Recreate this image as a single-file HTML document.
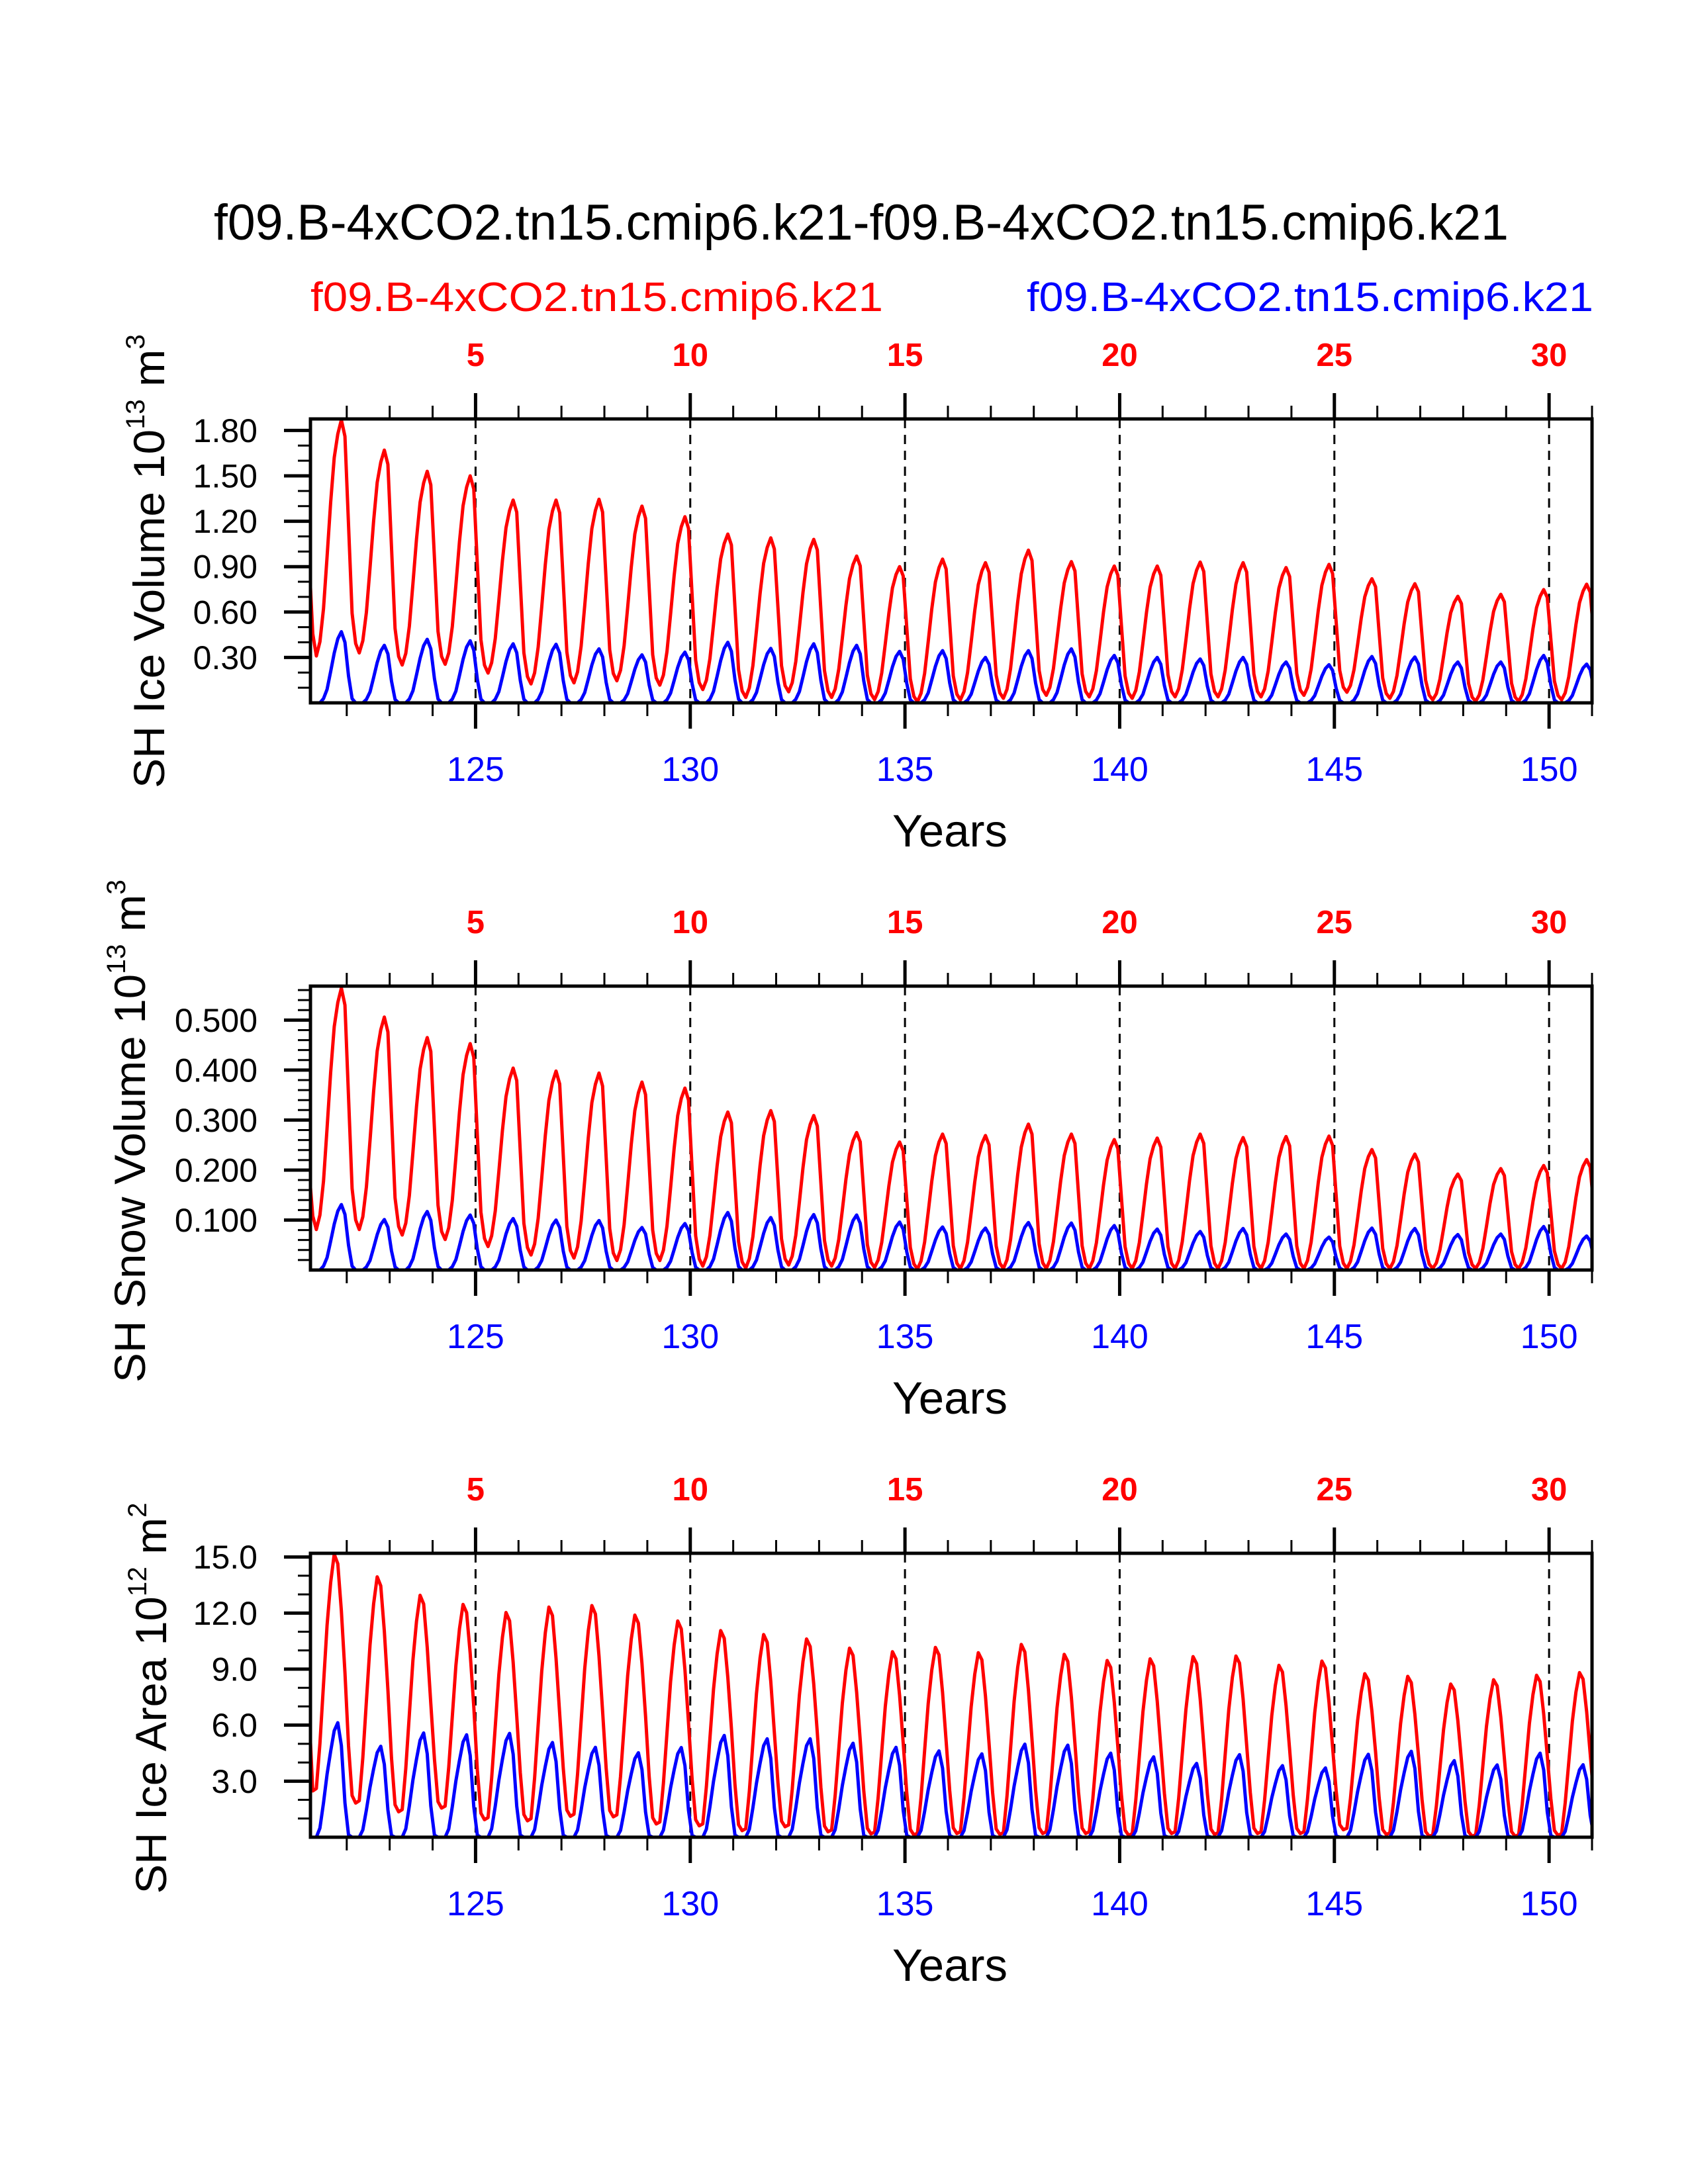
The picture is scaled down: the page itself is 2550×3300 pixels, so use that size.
<!DOCTYPE html>
<html><head><meta charset="utf-8"><style>
html,body{margin:0;padding:0;background:#fff;}
svg{display:block;}
text{font-family:"Liberation Sans",sans-serif;}
</style></head><body>
<svg id="chart" xmlns="http://www.w3.org/2000/svg" width="2550" height="3300" viewBox="0 0 2550 3300">
<rect width="2550" height="3300" fill="#fff"/>
<text x="1301" y="362" font-size="76" text-anchor="middle" textLength="1956" lengthAdjust="spacingAndGlyphs">f09.B-4xCO2.tn15.cmip6.k21-f09.B-4xCO2.tn15.cmip6.k21</text>
<text x="469" y="470" font-size="62" fill="#ff0000" textLength="865" lengthAdjust="spacingAndGlyphs">f09.B-4xCO2.tn15.cmip6.k21</text>
<text x="1551" y="470" font-size="62" fill="#0000ff" textLength="856" lengthAdjust="spacingAndGlyphs">f09.B-4xCO2.tn15.cmip6.k21</text>
<g id="panels"></g>
</svg>
<script>
// ---- data ----
const years = [121,122,123,124,125,126,127,128,129,130,131,132,133,134,135,136,137,138,139,140,141,142,143,144,145,146,147,148,149,150];
const volRedPeaks = [1.87,1.67,1.53,1.50,1.34,1.34,1.345,1.30,1.23,1.115,1.09,1.08,0.97,0.90,0.95,0.926,1.009,0.933,0.904,0.904,0.93,0.926,0.894,0.915,0.82,0.787,0.704,0.717,0.748,0.784];
const volRedTroughs = [0.31,0.33,0.25,0.255,0.197,0.125,0.132,0.146,0.117,0.088,0.036,0.073,0.036,0.022,0.007,0.02,0.03,0.05,0.04,0.03,0.04,0.04,0.04,0.05,0.07,0.03,0.02,0.01,0.01,0.02,0.02];
const volBluePeaks = [0.47,0.38,0.42,0.41,0.39,0.387,0.357,0.317,0.335,0.40,0.36,0.39,0.38,0.34,0.345,0.30,0.345,0.357,0.313,0.30,0.29,0.30,0.27,0.252,0.306,0.303,0.27,0.27,0.313,0.256];
const volBlueTroughs = [0,0,0,0,0,0,0,0,0,0,0,0,0,0,0,0,0,0,0,0,0,0,0,0,0,0,0,0,0,0,0];
const snowRedPeaks = [0.564,0.506,0.465,0.453,0.404,0.398,0.394,0.376,0.364,0.316,0.319,0.309,0.275,0.256,0.272,0.269,0.292,0.272,0.261,0.264,0.272,0.265,0.267,0.268,0.241,0.232,0.192,0.203,0.209,0.221];
const snowRedTroughs = [0.081,0.081,0.070,0.061,0.047,0.030,0.024,0.019,0.019,0.008,0.004,0.010,0.008,0.005,0.002,0.003,0.003,0.003,0.003,0.003,0.003,0.003,0.003,0.003,0.003,0.003,0.003,0.003,0.003,0.003,0.003];
const snowBluePeaks = [0.131,0.101,0.117,0.110,0.103,0.100,0.099,0.085,0.093,0.115,0.105,0.111,0.110,0.096,0.086,0.084,0.095,0.094,0.089,0.082,0.077,0.083,0.072,0.066,0.084,0.083,0.071,0.072,0.087,0.068];
const snowBlueTroughs = [0,0,0,0,0,0,0,0,0,0,0,0,0,0,0,0,0,0,0,0,0,0,0,0,0,0,0,0,0,0,0];
const areaRedPeaks = [15.15,13.94,12.95,12.46,12.03,12.32,12.40,11.89,11.58,11.06,10.85,10.61,10.12,9.93,10.16,9.88,10.32,9.79,9.46,9.55,9.67,9.70,9.20,9.43,8.75,8.61,8.20,8.43,8.67,8.81];
const areaRedTroughs = [2.48,1.83,1.36,1.56,0.94,0.88,1.12,1.09,0.71,0.61,0.35,0.56,0.29,0.18,0.12,0.2,0.15,0.2,0.2,0.1,0.2,0.15,0.2,0.2,0.4,0.15,0.05,0.05,0.05,0.1,0.1];
const areaBluePeaks = [6.13,4.87,5.58,5.48,5.56,5.07,4.81,4.52,4.80,5.45,5.27,5.27,5.03,4.81,4.62,4.46,4.98,4.93,4.50,4.30,3.95,4.42,3.83,3.71,4.44,4.60,4.10,3.87,4.50,3.88];
const areaBlueTroughs = [0,0,0,0,0,0,0,0,0,0,0,0,0,0,0,0,0,0,0,0,0,0,0,0,0,0,0,0,0,0,0];
const startValues = [0.93, 0, 0.196, 0, 6.5, 0];
const volTickLabels = ["0.30","0.60","0.90","1.20","1.50","1.80"];
const snowTickLabels = ["0.100","0.200","0.300","0.400","0.500"];
const areaTickLabels = ["3.0","6.0","9.0","12.0","15.0"];
const bottomTickLabels = ["125","130","135","140","145","150"];
const topTickLabels = ["5","10","15","20","25","30"];

// seasonal cycle shapes (normalized, monthly)
const shapeVolRed = [.55,.17,.04,0,.06,.2,.42,.65,.84,.94,1,.93];
const shapeVolBlue = [.38,.06,0,0,0,.06,.19,.44,.7,.9,1,.85];
const shapeAreaRed = [.23,.03,0,.01,.2,.45,.7,.88,1,.96,.76,.5];
const shapeAreaBlue = [.02,0,0,0,.08,.3,.55,.75,.93,1,.8,.3];

const NS = "http://www.w3.org/2000/svg";
const root = document.getElementById('panels');
const XMIN = 121.155, XMAX = 151.0, PL = 469, PR = 2405;
function xp(x){ return PL + (x - XMIN) / (XMAX - XMIN) * (PR - PL); }
function mk(tag, attrs, parent){
  const e = document.createElementNS(NS, tag);
  for (const k in attrs) e.setAttribute(k, attrs[k]);
  (parent || root).appendChild(e);
  return e;
}

const panels = [
  {top:633, ymax:1.876, labels:volTickLabels, step:0.30, minor:0.1, title:["SH Ice Volume 10","13"," m","3"], tx:248, tlen:686, tcy:848, name:"ice-volume",
   red:{p:volRedPeaks,t:volRedTroughs,s:shapeVolRed,T:3,st:startValues[0]}, blue:{p:volBluePeaks,t:volBlueTroughs,s:shapeVolBlue,T:3,st:startValues[1]}},
  {top:1490, ymax:0.568, labels:snowTickLabels, step:0.1, minor:0.02, title:["SH Snow Volume 10","13"," m","3"], tx:219, tlen:760, tcy:1709, name:"snow-volume",
   red:{p:snowRedPeaks,t:snowRedTroughs,s:shapeVolRed,T:3,st:startValues[2]}, blue:{p:snowBluePeaks,t:snowBlueTroughs,s:shapeVolBlue,T:3,st:startValues[3]}},
  {top:2347, ymax:15.2, labels:areaTickLabels, step:3.0, minor:1.0, title:["SH Ice Area 10","12"," m","2"], tx:251, tlen:591, tcy:2566, name:"ice-area",
   red:{p:areaRedPeaks,t:areaRedTroughs,s:shapeAreaRed,T:2,st:startValues[4]}, blue:{p:areaBluePeaks,t:areaBlueTroughs,s:shapeAreaBlue,T:3,st:startValues[5]}}
];
const H = 429;

function seriesPoints(d){
  const pts = [];
  for (let k = 0; k < d.t.length; k++){
    for (let i = 0; i < 12; i++){
      const x = 121 + k + (i + 0.5) / 12;
      if (x < XMIN - 0.1 || x > XMAX + 0.1) continue;
      const tr = d.t[k];
      let v;
      if (i < d.T){
        if (k === 0){
          v = d.s[1] > 0 ? tr + (d.st - tr) * (d.s[i] / d.s[1]) : tr;
        }
        else v = tr + (d.p[k-1] - tr) * d.s[i];
      } else {
        if (k >= d.p.length) continue;
        v = tr + (d.p[k] - tr) * d.s[i];
      }
      pts.push([x, v]);
    }
  }
  return pts;
}

panels.forEach((P, n) => {
  const B = P.top + H;
  const yp = v => B - v / P.ymax * H;
  const g = mk('g', {});
  
  
  const cid = 'clip' + n;
  const cp = mk('clipPath', {id: cid}, g);
  mk('rect', {x: PL, y: P.top, width: PR - PL, height: H}, cp);

  bottomTickLabels.forEach((lab) => {
    const x = xp(+lab);
    const l = mk('line', {x1:x, x2:x, y1:P.top, y2:B, stroke:'#000', 'stroke-width':3, 'stroke-dasharray':'14 10'}, g);
    
    
  });

  [['red','#ff0000',P.red],['blue','#0000ff',P.blue]].forEach(([nm, col, d]) => {
    const pts = seriesPoints(d);
    const path = mk('polyline', {points: pts.map(p => xp(p[0]).toFixed(1) + ',' + yp(p[1]).toFixed(1)).join(' '),
      fill:'none', stroke:col, 'stroke-width':5, 'stroke-linejoin':'round', 'clip-path':'url(#' + cid + ')'}, g);
    
    
  });

  const fr = mk('rect', {x:PL, y:P.top, width:PR-PL, height:H, fill:'none', stroke:'#000', 'stroke-width':5}, g);
  
  

  for (let yr = 122; yr <= 151; yr++){
    const x = xp(yr);
    const major = (yr % 5 === 0);
    const len = major ? 39 : 20;
    const sw = major ? 5 : 3;
    mk('line', {x1:x, x2:x, y1:B, y2:B+len, stroke:'#000', 'stroke-width':sw}, g);
    mk('line', {x1:x, x2:x, y1:P.top, y2:P.top-len, stroke:'#000', 'stroke-width':sw}, g);
  }
  bottomTickLabels.forEach((lab) => {
    const t = mk('text', {x:xp(+lab), y:B+118, 'font-size':52, 'text-anchor':'middle', fill:'#0000ff'}, g);
    t.textContent = lab;
    
    
  });
  topTickLabels.forEach((lab, j) => {
    const t = mk('text', {x:xp(+bottomTickLabels[j]), y:P.top-80, 'font-size':49, 'font-weight':'bold', 'text-anchor':'middle', fill:'#ff0000'}, g);
    t.textContent = lab;
    
    
  });

  const nMinor = Math.floor(P.ymax / P.minor + 1e-6);
  for (let m = 1; m <= nMinor; m++){
    const v = m * P.minor;
    const y = yp(v);
    const isMajor = Math.abs(v / P.step - Math.round(v / P.step)) < 1e-6;
    mk('line', {x1:PL, x2:PL-(isMajor?40:19), y1:y, y2:y, stroke:'#000', 'stroke-width':isMajor?5:3}, g);
  }
  P.labels.forEach((lab) => {
    const t = mk('text', {x:389, y:yp(+lab)+17.5, 'font-size':50, 'text-anchor':'end'}, g);
    t.textContent = lab;
    
    
  });

  const xt = mk('text', {x:1435, y:B+217, 'font-size':69, 'text-anchor':'middle'}, g);
  xt.textContent = 'Years';
  
  

  const yt = mk('text', {x:0, y:0, 'font-size':66, 'text-anchor':'middle', transform:'translate(' + P.tx + ',' + P.tcy + ') rotate(-90)', textLength:P.tlen, lengthAdjust:'spacingAndGlyphs'}, g);
  
  
  const parts = P.title;
  const s1 = mk('tspan', {}, yt); s1.textContent = parts[0];
  const s2 = mk('tspan', {'font-size':40, dy:-30}, yt); s2.textContent = parts[1];
  const s3 = mk('tspan', {dy:30}, yt); s3.textContent = parts[2];
  const s4 = mk('tspan', {'font-size':40, dy:-30}, yt); s4.textContent = parts[3];
});
</script>
</body></html>
